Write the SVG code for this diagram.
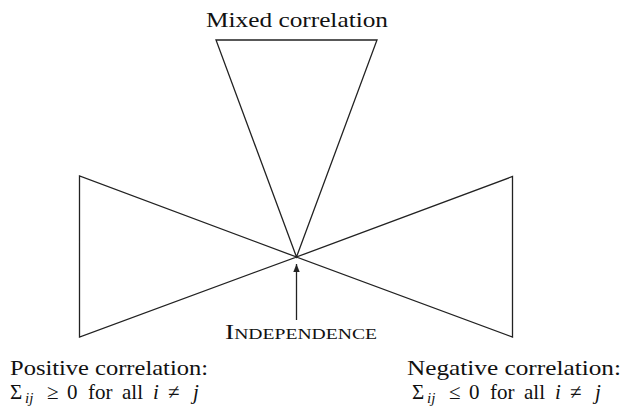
<svg xmlns="http://www.w3.org/2000/svg" width="624" height="409" viewBox="0 0 624 409">
<style>
.s{fill:none;stroke:#222;stroke-width:1.3;stroke-linejoin:miter}
.t{font-family:"Liberation Serif","DejaVu Serif",serif;font-size:21px;fill:#111}
.i{font-style:italic}
.sub{font-style:italic;font-size:15px}
</style>
<defs>
<marker id="ah" viewBox="0 0 10 10" refX="10" refY="5" markerWidth="8" markerHeight="10" markerUnits="userSpaceOnUse" orient="auto">
<path d="M0,1 L10,5 L0,9 z" fill="#222"/>
</marker>
</defs>
<rect width="624" height="409" fill="#fff"/>
<g id="mixed">
<polygon class="s" points="216,40 377,40 296.5,257"/>
<text class="t" x="206" y="27" textLength="182" lengthAdjust="spacingAndGlyphs">Mixed correlation</text>
</g>
<g id="positive">
<polygon class="s" points="79.5,176 79.5,337 296.5,257"/>
<text class="t" x="10" y="375" textLength="198" lengthAdjust="spacingAndGlyphs">Positive correlation:</text>
<text class="t" y="399"><tspan x="10">Σ</tspan><tspan class="sub" x="25" y="403">ij</tspan><tspan x="47" y="399">≥</tspan><tspan x="67">0</tspan><tspan x="88">for</tspan><tspan x="122">all</tspan><tspan class="i" x="153">i</tspan><tspan x="168">≠</tspan><tspan class="i" x="193">j</tspan></text>
</g>
<g id="negative">
<polygon class="s" points="512.5,176.5 512.5,337 296.5,257"/>
<text class="t" x="407" y="375" textLength="214" lengthAdjust="spacingAndGlyphs">Negative correlation:</text>
<text class="t" y="399"><tspan x="412">Σ</tspan><tspan class="sub" x="427" y="403">ij</tspan><tspan x="449" y="399">≤</tspan><tspan x="469">0</tspan><tspan x="490">for</tspan><tspan x="524">all</tspan><tspan class="i" x="555">i</tspan><tspan x="570">≠</tspan><tspan class="i" x="595">j</tspan></text>
</g>
<g id="independence">
<text class="t" x="225" y="339" textLength="152" lengthAdjust="spacingAndGlyphs" font-variant="small-caps">Independence</text>
</g>
<g id="connectors">
<line class="s" x1="296.5" y1="320" x2="296.5" y2="264" marker-end="url(#ah)"/>
</g>
</svg>
